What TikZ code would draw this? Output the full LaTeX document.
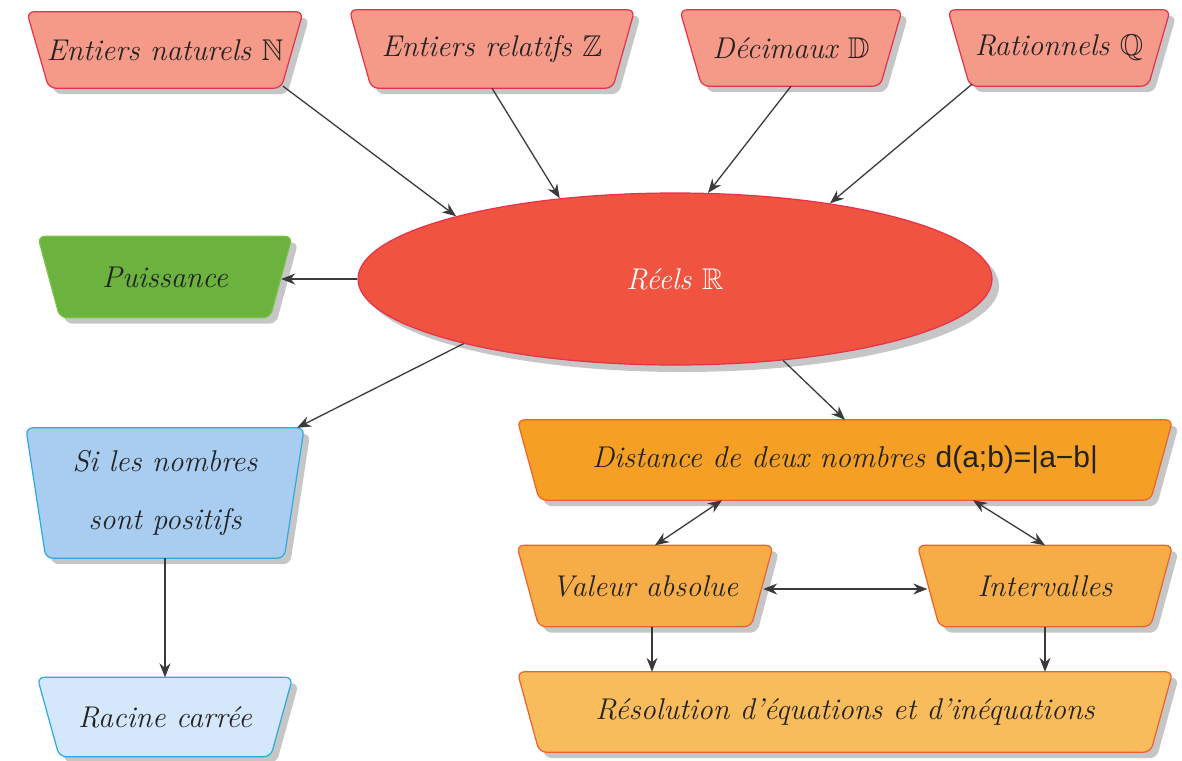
\documentclass[tikz,border=0pt]{standalone}
\usepackage{fontspec}
\usepackage{amssymb}
\newfontfamily\formfont{Liberation Sans}
\usetikzlibrary{shapes.geometric,shadows,calc,arrows.meta}
\pgfdeclarelayer{background}
\pgfsetlayers{background,main}
\definecolor{salmonfill}{HTML}{F59A88}
\definecolor{redline}{HTML}{E8304A}
\definecolor{ellfill}{HTML}{F0533F}
\definecolor{greenfill}{HTML}{6CB23E}
\definecolor{greenline}{HTML}{7CC24A}
\definecolor{bluefill}{HTML}{A9CDF1}
\definecolor{lightbluefill}{HTML}{D5E7FA}
\definecolor{blueline}{HTML}{2AA9E2}
\definecolor{orangefill}{HTML}{F5A024}
\definecolor{orangeline}{HTML}{F0602A}
\definecolor{midorange}{HTML}{F6AD47}
\definecolor{lightorange}{HTML}{F8BC5D}
\definecolor{textc}{HTML}{222222}
\definecolor{arrowc}{HTML}{3A3A3A}
\definecolor{shadowc}{HTML}{C6C6C6}
% #1 node name, #2 inset of the lower corners, #3 fill, #4 line colour
\newcommand\trapbg[4]{%
  \begin{pgfonlayer}{background}
    \fill[shadowc, rounded corners=7pt]
      ($(#1.north west)+(6,6)$) -- ($(#1.north east)+(6,6)$) --
      ($(#1.south east)+(6-#2,6)$) -- ($(#1.south west)+(6+#2,6)$) -- cycle;
    \draw[fill=#3, draw=#4, line width=1.2pt, rounded corners=7pt]
      (#1.north west) -- (#1.north east) --
      ($(#1.south east)+(-#2,0)$) -- ($(#1.south west)+(#2,0)$) -- cycle;
  \end{pgfonlayer}}
\begin{document}
\begin{tikzpicture}[x=1pt,y=-1pt,
  box/.style={rectangle, inner sep=0pt, text=textc,
    font=\fontsize{30}{34}\selectfont\itshape},
  conn/.style={-{Stealth[length=14pt,width=11pt]}, line width=1.3pt, draw=arrowc},
  bconn/.style={{Stealth[length=14pt,width=11pt]}-{Stealth[length=14pt,width=11pt]}, line width=1.3pt, draw=arrowc}
]
\useasboundingbox (0,0) rectangle (1182,760);

\node[box, minimum width=276pt, minimum height=76pt] (nat) at (165,50) {Entiers naturels $\mathbb{N}$};
\node[box, minimum width=285pt, minimum height=78pt] (rel) at (492,49) {Entiers relatifs $\mathbb{Z}$};
\node[box, minimum width=222pt, minimum height=76pt] (dec) at (791,48) {Décimaux $\mathbb{D}$};
\node[box, minimum width=222pt, minimum height=76pt] (rat) at (1059,48) {Rationnels $\mathbb{Q}$};
\trapbg{nat}{22}{salmonfill}{redline}
\trapbg{rel}{22}{salmonfill}{redline}
\trapbg{dec}{22}{salmonfill}{redline}
\trapbg{rat}{22}{salmonfill}{redline}

\node[ellipse, fill=ellfill, draw=redline, line width=1.2pt, minimum width=634pt, minimum height=172pt,
  text=white, font=\fontsize{30}{34}\selectfont\itshape,
  drop shadow={shadow xshift=7pt, shadow yshift=-7pt, fill=shadowc, opacity=1}] (reel) at (675,279) {Réels $\mathbb{R}$};

\node[box, minimum width=254pt, minimum height=81pt] (pui) at (165,277) {Puissance};
\trapbg{pui}{22}{greenfill}{greenline}
\node[box, minimum width=278pt, minimum height=130pt, align=center,
  font=\fontsize{30}{58}\selectfont\itshape] (si) at (165,493) {Si les nombres\\sont positifs};
\trapbg{si}{20}{bluefill}{blueline}
\node[box, minimum width=255pt, minimum height=79pt] (rac) at (165,717) {Racine carrée};
\trapbg{rac}{22}{lightbluefill}{blueline}

\node[box, minimum width=655pt, minimum height=80pt] (dist) at (845,460)
  {Distance de deux nombres {\upshape\formfont d(a;b)=|a−b|}};
\trapbg{dist}{22}{orangefill}{orangeline}
\node[box, minimum width=256pt, minimum height=81pt] (val) at (645,586) {Valeur absolue};
\trapbg{val}{22}{midorange}{orangeline}
\node[box, minimum width=255pt, minimum height=81pt] (int) at (1045,586) {Intervalles};
\trapbg{int}{22}{midorange}{orangeline}
\node[box, minimum width=655pt, minimum height=80pt] (res) at (845,712) {Résolution d'équations et d'inéquations};
\trapbg{res}{22}{lightorange}{orangeline}

\draw[conn] ($(nat.south)+(118,-2)$) -- (reel.164);
\draw[conn] (rel.south) -- (reel.145);
\draw[conn] (dec.south) -- (reel.69);
\draw[conn] ($(rat.south)+(-87,-2)$) -- (reel.26);
\draw[conn] (reel.west) -- ($(reel.west -| pui.east)+(-11,0)$);
\draw[conn] (reel.197) -- ($(si.north)+(132,0)$);
\draw[conn] (reel.323) -- (dist.north);
\draw[bconn] ($(val.north)+(10,0)$) -- ($(dist.south)+(-123,0)$);
\draw[bconn] (int.north) -- ($(dist.south)+(128,0)$);
\draw[bconn] ($(val.east)+(-10,3)$) -- ($(int.west)+(10,3)$);
\draw[conn] ($(val.south)+(7,0)$) -- ($(val.south |- res.north)+(7,0)$);
\draw[conn] (int.south) -- (int.south |- res.north);
\draw[conn] (si.south) -- (rac.north);
\end{tikzpicture}
\end{document}
